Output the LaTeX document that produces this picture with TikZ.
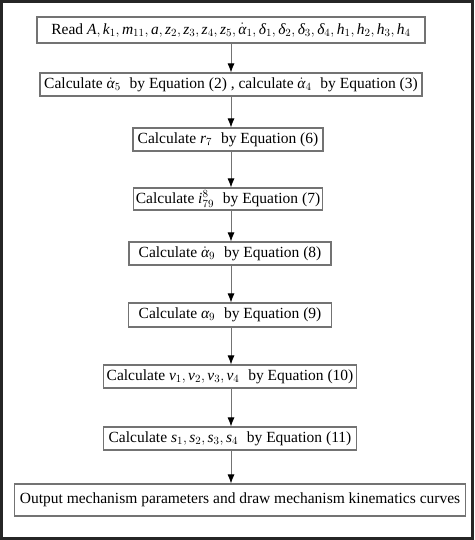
\documentclass[tikz,border=0pt]{standalone}
\usepackage{fontspec}
\setmainfont{Liberation Serif}
\usetikzlibrary{calc,arrows.meta}
\newcommand{\mv}[1]{\textit{#1}}
\newcommand{\gapby}{\hspace{5pt} by}

\begin{document}
\begin{tikzpicture}[x=1pt,y=1pt,stepbox/.style={draw=black!55,line width=1.2pt,minimum height=23pt,inner sep=2pt,font=\fontsize{15.5pt}{18pt}\selectfont},arrow/.style={draw=black!55,line width=0.8pt,-{Latex[length=9pt,width=7pt,black]}}]
  \useasboundingbox (0,0) rectangle (474,-540);
  \draw[line width=3pt,black!85] (1.5,-1.5) rectangle (472.5,-538.5);
  \node[stepbox,minimum width=388pt,minimum height=26pt] (read) at (231,-30) {Read $\mv{A},\mv{k}_1,\mv{m}_{11},\mv{a},\mv{z}_2,\mv{z}_3,\mv{z}_4,\mv{z}_5,\dot{\mv{α}}_1,\mv{δ}_1,\mv{δ}_2,\mv{δ}_3,\mv{δ}_4,\mv{h}_1,\mv{h}_2,\mv{h}_3,\mv{h}_4$};
  \node[stepbox,minimum width=382pt] (alphafour) at ($ (read) + (0,-54.5) $) {Calculate $\dot{\mv{α}}_5$\gapby{} Equation (2) , calculate $\dot{\mv{α}}_4$\gapby{} Equation (3)};
  \node[stepbox,minimum width=190pt] (radius) at ($ (alphafour) + (-3,-55) $) {Calculate $\mv{r}_7$\gapby{} Equation (6)};
  \node[stepbox,minimum width=189pt,minimum height=22pt] (ratio) at ($ (radius) + (0,-59.5) $) {Calculate $\mv{i}_{79}^{8}$\gapby{} Equation (7)};
  \node[stepbox,minimum width=202pt] (alphadot) at ($ (ratio) + (2,-54.5) $) {Calculate $\dot{\mv{α}}_9$\gapby{} Equation (8)};
  \node[stepbox,minimum width=203pt,minimum height=24pt] (alpha) at ($ (alphadot) + (0,-61.5) $) {Calculate $\mv{α}_9$\gapby{} Equation (9)};
  \node[stepbox,minimum width=253pt] (speed) at ($ (alpha) + (0,-61.5) $) {Calculate $\mv{v}_1,\mv{v}_2,\mv{v}_3,\mv{v}_4$\gapby{} Equation (10)};
  \node[stepbox,minimum width=253pt] (stroke) at ($ (speed) + (0,-62) $) {Calculate $\mv{s}_1,\mv{s}_2,\mv{s}_3,\mv{s}_4$\gapby{} Equation (11)};
  \node[stepbox,minimum width=451pt,minimum height=32pt] (output) at ($ (stroke) + (10,-61.5) $) {Output mechanism parameters and draw mechanism kinematics curves};
  \draw[arrow] (read.south) -- (read.south |- alphafour.north);
  \draw[arrow] (alphafour.south) -- (alphafour.south |- radius.north);
  \draw[arrow] (alphafour.south |- radius.south) -- (alphafour.south |- ratio.north);
  \draw[arrow] (alphafour.south |- ratio.south) -- (alphafour.south |- alphadot.north);
  \draw[arrow] (alphafour.south |- alphadot.south) -- (alphafour.south |- alpha.north);
  \draw[arrow] (alphafour.south |- alpha.south) -- (alphafour.south |- speed.north);
  \draw[arrow] (alphafour.south |- speed.south) -- (alphafour.south |- stroke.north);
  \draw[arrow] (alphafour.south |- stroke.south) -- (alphafour.south |- output.north);
\end{tikzpicture}
\end{document}
